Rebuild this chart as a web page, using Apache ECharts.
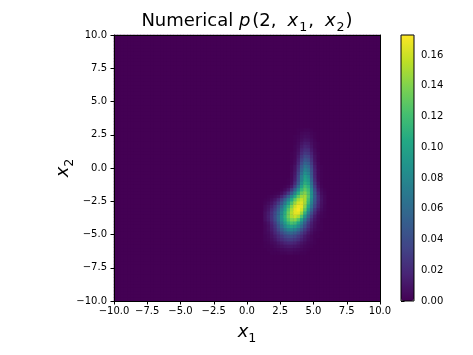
<!DOCTYPE html>
<html>
<head>
<meta charset="utf-8">
<script src="https://cdn.jsdelivr.net/npm/echarts@6/dist/echarts.min.js"></script>
<style>
html, body { margin: 0; padding: 0; background: #fff; }
#main { width: 473px; height: 355px; }
</style>
</head>
<body>
<div id="main"></div>
<script>
// grid of 0.25 x 0.25 cells over [-10, 10] x [-10, 10]
const cellSize = 0.25;
const axisMin = -10;
const axisMax = 10;
const axisTicks = [-10, -7.5, -5, -2.5, 0, 2.5, 5, 7.5, 10];
const cbTicks = [0, 0.02, 0.04, 0.06, 0.08, 0.10, 0.12, 0.14, 0.16];
const cbMax = 0.173;

// the non-zero part of p(2, x1, x2), in units of 0.001
// columns: x1 cell centres 1.375, 1.625 ... 5.875
// rows: x2 cell centres 2.875, 2.625 ... -6.375 (top to bottom)
const blobX1Start = 1.375;
const blobX2Start = 2.875;
const density = [
  [0,0,0,0,0,0,0,0,0,0,1,1,2,2,1,0,0,0,0],
  [0,0,0,0,0,0,0,0,0,0,1,3,4,4,2,1,0,0,0],
  [0,0,0,0,0,0,0,0,0,1,2,4,6,5,3,1,0,0,0],
  [0,0,0,0,0,0,0,0,0,1,3,6,9,8,5,2,0,0,0],
  [0,0,0,0,0,0,0,0,0,1,4,9,13,12,7,3,1,0,0],
  [0,0,0,0,0,0,0,0,0,2,5,12,17,15,9,3,1,0,0],
  [0,0,0,0,0,0,0,0,0,2,7,16,22,21,12,5,1,0,0],
  [0,0,0,0,0,0,0,0,1,3,9,20,28,26,16,6,2,0,0],
  [0,0,0,0,0,0,0,0,1,3,12,26,36,33,20,8,2,0,0],
  [0,0,0,0,0,0,0,0,1,4,15,32,45,41,25,9,2,0,0],
  [0,0,0,0,0,0,0,0,1,5,18,39,55,50,30,11,3,0,0],
  [0,0,0,0,0,0,0,0,2,8,23,48,65,59,35,14,3,1,0],
  [0,0,0,0,0,0,0,0,2,9,27,55,75,68,41,16,4,1,0],
  [0,0,0,0,0,0,0,0,3,11,32,63,85,76,45,17,4,1,0],
  [0,0,0,0,0,0,0,0,3,13,36,72,95,84,48,18,4,1,0],
  [0,0,0,0,0,0,0,1,4,15,40,75,100,92,55,21,5,1,0],
  [0,0,0,0,0,0,0,1,6,21,48,85,108,100,63,26,8,1,0],
  [0,0,0,0,0,0,1,4,12,32,63,98,119,109,70,32,10,2,0],
  [0,0,0,0,0,1,5,12,28,53,85,114,129,118,80,40,14,4,1],
  [0,0,0,1,2,6,14,28,50,78,108,131,140,124,86,46,19,6,2],
  [0,1,2,4,8,17,31,51,77,105,130,146,149,126,87,49,22,8,3],
  [1,2,5,10,19,33,53,77,104,130,149,158,150,120,81,46,22,9,3],
  [2,5,9,17,30,47,70,96,123,146,161,164,148,114,75,42,20,8,3],
  [4,8,14,25,41,61,87,113,139,159,169,166,141,104,66,36,17,7,2],
  [5,10,19,31,49,72,98,126,149,166,172,160,129,89,53,27,12,5,2],
  [7,13,23,37,56,80,107,133,153,166,166,146,111,72,41,20,8,3,1],
  [7,14,24,39,59,84,110,134,151,158,150,124,88,55,29,13,5,2,1],
  [7,13,23,38,58,82,106,126,139,141,126,99,68,41,21,10,4,1,0],
  [4,9,18,31,50,72,94,112,122,118,101,77,51,30,15,7,3,1,0],
  [3,7,15,26,42,61,80,94,100,95,80,60,40,24,12,6,2,1,0],
  [3,7,13,22,35,50,64,75,78,73,60,44,29,17,9,4,2,1,0],
  [3,5,10,18,27,38,48,55,57,52,42,30,20,11,6,2,1,0,0],
  [2,4,8,13,20,27,34,38,39,35,28,20,12,7,3,1,1,0,0],
  [2,3,6,10,16,21,26,29,30,27,22,15,10,5,3,1,0,0,0],
  [1,2,4,6,10,13,17,19,19,17,13,9,6,3,2,1,0,0,0],
  [1,1,2,4,6,8,10,11,11,10,8,5,3,2,1,0,0,0,0],
  [0,1,1,2,3,4,5,6,6,5,4,3,2,1,0,0,0,0,0],
  [0,0,1,1,1,2,2,3,3,2,2,1,1,0,0,0,0,0,0]
];

const viridis = ['#440154', '#482475', '#414487', '#355f8d', '#2a788e', '#21918c',
  '#22a884', '#44bf70', '#7ad151', '#bddf26', '#fde725'];

// category axes for the heatmap cells
const nCells = Math.round((axisMax - axisMin) / cellSize);
const cellCentres = [];
for (let k = 0; k < nCells; k++) {
  cellCentres.push((axisMin + cellSize * (k + 0.5)).toFixed(3));
}

// every cell, zero outside the blob
const col0 = Math.round((blobX1Start - axisMin) / cellSize - 0.5);
const row0 = Math.round((blobX2Start - axisMin) / cellSize - 0.5);
const lookup = {};
density.forEach(function (row, r) {
  row.forEach(function (v, c) {
    lookup[(col0 + c) + ',' + (row0 - r)] = v / 1000;
  });
});
const cells = [];
for (let i = 0; i < nCells; i++) {
  for (let j = 0; j < nCells; j++) {
    cells.push([i, j, lookup[i + ',' + j] || 0]);
  }
}

const font = 'DejaVu Sans';
const fmt1 = v => v.toFixed(1).replace('-', '\u2212');
// mathtext-like pieces: italic letters, subscripts, spaced commas
const mathRich = {
  i: { fontStyle: 'italic', fontSize: 18, fontFamily: font, color: '#000' },
  ti: { fontStyle: 'italic', fontSize: 18, fontFamily: font, color: '#000', padding: [0, 1, 0, 0] },
  p: { fontStyle: 'italic', fontSize: 18, fontFamily: font, color: '#000', padding: [0, 2, 0, 0] },
  cm: { fontSize: 18, fontFamily: font, color: '#000', padding: [0, 11, 0, 0] },
  s: { fontSize: 12.6, fontFamily: font, color: '#000', padding: [12, 0, 0, 0] },
  ts: { fontSize: 12.6, fontFamily: font, color: '#000', padding: [12, 1, 0, 0] }
};
const tickLabel = { color: '#000', fontSize: 10, fontFamily: font };
const frameLine = { show: true, onZero: false, lineStyle: { color: '#000', width: 1 } };

let chart = echarts.init(document.getElementById('main'));

let option = {
  animation: false,
  backgroundColor: '#fff',
  textStyle: { fontFamily: font },
  graphic: [{
    type: 'text',
    x: 247,
    y: 34,
    z: 20,
    style: {
      text: 'Numerical {p|p}(2{cm|,}{ti|x}{ts|1}{cm|,}{ti|x}{ts|2})',
      fontSize: 18,
      fontFamily: font,
      fill: '#000',
      align: 'center',
      verticalAlign: 'bottom',
      rich: mathRich
    }
  }],
  grid: [
    { left: 114, top: 35, width: 266, height: 266, show: true, borderWidth: 0,
      backgroundColor: '#440154', outerBoundsMode: 'none' },
    { left: 401, top: 35, width: 13, height: 266, show: true, borderColor: '#000',
      borderWidth: 1, backgroundColor: 'transparent', z: 10, outerBoundsMode: 'none' }
  ],
  xAxis: [
    {
      type: 'category', gridIndex: 0, data: cellCentres, position: 'top', z: 10,
      axisLine: frameLine, axisTick: { show: false }, axisLabel: { show: false }
    },
    {
      type: 'value', gridIndex: 0, min: axisMin, max: axisMax, interval: 2.5,
      position: 'bottom', z: 10,
      splitLine: { show: false },
      axisLine: frameLine,
      axisTick: { length: 3.5, lineStyle: { color: '#000' } },
      axisLabel: Object.assign({ margin: 5, formatter: fmt1 }, tickLabel),
      name: '{i|x}{s|1}',
      nameLocation: 'middle',
      nameGap: 19,
      nameMoveOverlap: false,
      nameTextStyle: { fontSize: 18, color: '#000', rich: mathRich }
    },
    { type: 'value', gridIndex: 1, show: false, min: 0, max: 1 }
  ],
  yAxis: [
    {
      type: 'category', gridIndex: 0, data: cellCentres, position: 'right', z: 10,
      axisLine: frameLine, axisTick: { show: false }, axisLabel: { show: false }
    },
    {
      type: 'value', gridIndex: 0, min: axisMin, max: axisMax, interval: 2.5,
      position: 'left', z: 10,
      splitLine: { show: false },
      axisLine: frameLine,
      axisTick: { length: 3.5, lineStyle: { color: '#000' } },
      axisLabel: Object.assign({ margin: 7, formatter: fmt1 }, tickLabel),
      name: '{i|x}{s|2}',
      nameLocation: 'middle',
      nameRotate: 90,
      nameGap: 38,
      nameMoveOverlap: false,
      nameTextStyle: { fontSize: 18, color: '#000', rich: mathRich }
    },
    {
      type: 'value', gridIndex: 1, min: 0, max: cbMax, position: 'right',
      splitLine: { show: false },
      axisLine: { show: false },
      axisTick: { length: 3.5, customValues: cbTicks, lineStyle: { color: '#000' } },
      axisLabel: Object.assign({ margin: 7, customValues: cbTicks, formatter: v => v.toFixed(2) }, tickLabel)
    }
  ],
  visualMap: {
    type: 'continuous',
    min: 0,
    max: cbMax,
    dimension: 2,
    seriesIndex: 0,
    orient: 'vertical',
    left: 401,
    top: 35,
    padding: 0,
    itemWidth: 13,
    itemHeight: 266,
    calculable: false,
    hoverLink: false,
    inRange: { color: viridis }
  },
  series: [{
    type: 'heatmap',
    xAxisIndex: 0,
    yAxisIndex: 0,
    data: cells,
    progressive: 0,
    itemStyle: { borderWidth: 0 },
    emphasis: { disabled: true }
  }]
};

chart.setOption(option);
</script>
</body>
</html>
